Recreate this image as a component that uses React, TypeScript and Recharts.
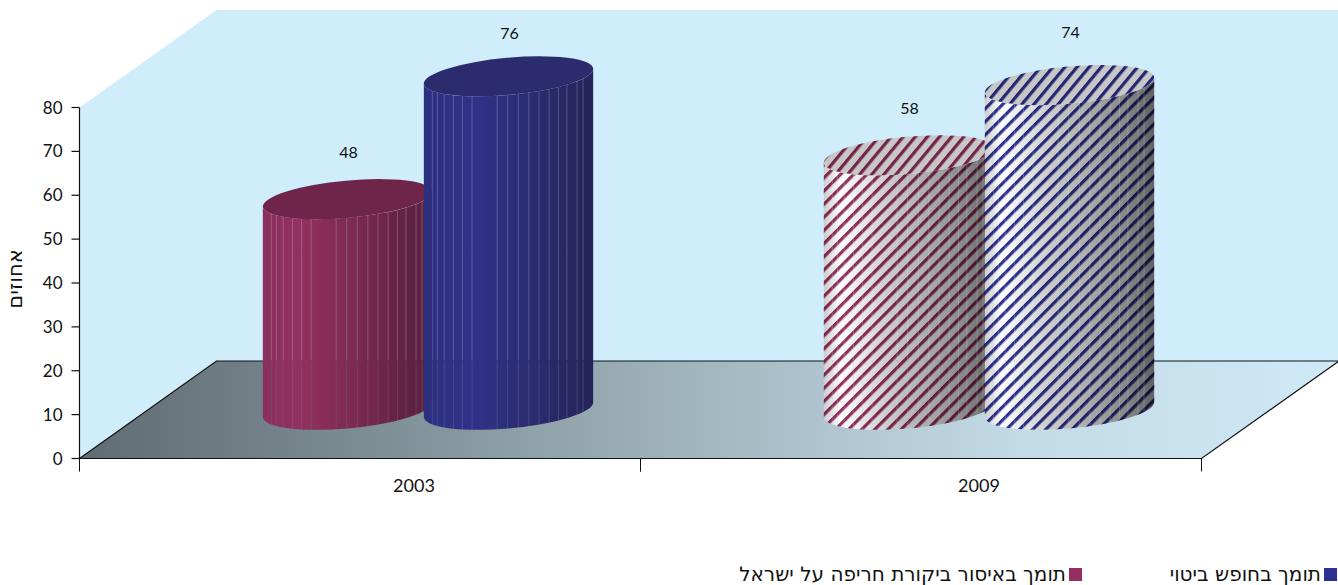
import React from "react";
import {
  Bar,
  BarChart,
  Customized,
  LabelList,
  Legend,
  XAxis,
  YAxis,
} from "recharts";

const YEARS = ["2003", "2009"];
const CENSORSHIP_VALUES = [48, 58];
const EXPRESSION_VALUES = [76, 74];
const Y_TICKS = [0, 10, 20, 30, 40, 50, 60, 70, 80];
const CENSORSHIP_NAME = "תומך באיסור ביקורת חריפה על ישראל";
const EXPRESSION_NAME = "תומך בחופש ביטוי";
const Y_TITLE = "אחוזים";

const chartData = YEARS.map((year, i) => ({
  year,
  censorship: CENSORSHIP_VALUES[i],
  expression: EXPRESSION_VALUES[i],
}));

const FONT = "Lato, 'DejaVu Sans', sans-serif";
const HEBREW_FONT = "'DejaVu Sans', sans-serif";
const RED = "#952f5f";
const BLUE = "#2e3190";

// plot box and the fake 3d depth of the floor
const LEFT = 79.5;
const RIGHT = 1201.5;
const TOP = 107.5;
const BOTTOM = 458.5;
const DEPTH_X = 137;
const DEPTH_Y = -97.5;

// cylinder look
const RX = 85;
const RY = 18.6;
const TILT = (-5.2 * Math.PI) / 180;
const NUDGE_X = -1;
const SEAMS = [
  0.05, 0.08, 0.12, 0.175, 0.228, 0.285, 0.433, 0.495, 0.558, 0.62, 0.68, 0.74,
  0.795, 0.845, 0.905, 0.94,
];

// how far above the cap centre each value label sits
const LABEL_LIFT: Record<string, number[]> = {
  censorship: [47, 47],
  expression: [43, 53],
};
const YEAR_LABEL_SHIFT = [54, 58];

function Backdrop() {
  const bx = LEFT + DEPTH_X;
  const by = BOTTOM + DEPTH_Y;
  return (
    <g>
      <defs>
        <linearGradient id="floorFill" x1="0" y1="0" x2="1" y2="0">
          <stop offset="0" stopColor="#5f6c72" />
          <stop offset="0.25" stopColor="#7f9097" />
          <stop offset="0.5" stopColor="#a3b7c0" />
          <stop offset="0.75" stopColor="#c3dbe7" />
          <stop offset="1" stopColor="#d0e9f6" />
        </linearGradient>
        <linearGradient id="redBody" x1="0" y1="0" x2="1" y2="0">
          <stop offset="0" stopColor="#8a2f5d" />
          <stop offset="0.2" stopColor="#93305f" />
          <stop offset="0.5" stopColor="#7f2b52" />
          <stop offset="0.8" stopColor="#652343" />
          <stop offset="1" stopColor="#5a2040" />
        </linearGradient>
        <linearGradient id="blueBody" x1="0" y1="0" x2="1" y2="0">
          <stop offset="0" stopColor="#2c2f80" />
          <stop offset="0.3" stopColor="#2f3288" />
          <stop offset="0.6" stopColor="#2c2c72" />
          <stop offset="1" stopColor="#25245a" />
        </linearGradient>
        <linearGradient id="hatchShade" x1="0" y1="0" x2="1" y2="0">
          <stop offset="0" stopColor="#000" stopOpacity="0.2" />
          <stop offset="0.1" stopColor="#000" stopOpacity="0" />
          <stop offset="0.35" stopColor="#000" stopOpacity="0.18" />
          <stop offset="0.6" stopColor="#000" stopOpacity="0.32" />
          <stop offset="0.85" stopColor="#000" stopOpacity="0.48" />
          <stop offset="1" stopColor="#000" stopOpacity="0.62" />
        </linearGradient>
        <pattern
          id="hatchRed"
          patternUnits="userSpaceOnUse"
          width="9.3"
          height="9.3"
          patternTransform="rotate(45)"
        >
          <rect width="9.3" height="9.3" fill="#fff" />
          <rect width="3.2" height="9.3" fill={RED} />
        </pattern>
        <pattern
          id="hatchBlue"
          patternUnits="userSpaceOnUse"
          width="9.3"
          height="9.3"
          patternTransform="rotate(45)"
        >
          <rect width="9.3" height="9.3" fill="#fff" />
          <rect width="3.2" height="9.3" fill={BLUE} />
        </pattern>
      </defs>
      <polygon
        points={`${LEFT},${TOP} ${bx},${TOP + DEPTH_Y} 1338,${TOP + DEPTH_Y} 1338,${by} ${bx},${by} ${LEFT},${BOTTOM}`}
        fill="#d0edfc"
      />
      <polygon
        points={`${LEFT},${BOTTOM} ${bx},${by} 1339,${by} ${RIGHT},${BOTTOM}`}
        fill="url(#floorFill)"
        stroke="#111"
        strokeWidth={1.2}
      />
    </g>
  );
}

function Cylinder(props: any) {
  const { x, y, width, height, index, hatchAt, lid, body, hatch, tag } = props;
  const cx = x + width / 2 + DEPTH_X / 2 + NUDGE_X;
  const topY = y + DEPTH_Y / 2;
  const baseY = y + height + DEPTH_Y / 2;

  // silhouette tips of the tilted ellipse
  const t = Math.atan(-(RY / RX) * Math.tan(TILT));
  const tx = RX * Math.cos(t) * Math.cos(TILT) - RY * Math.sin(t) * Math.sin(TILT);
  const ty = RX * Math.cos(t) * Math.sin(TILT) + RY * Math.sin(t) * Math.cos(TILT);
  const deg = (TILT * 180) / Math.PI;
  const arc = `A${RX} ${RY} ${deg}`;

  const bodyPath =
    `M${cx - tx} ${topY - ty} L${cx - tx} ${baseY - ty} ` +
    `${arc} 0 0 ${cx + tx} ${baseY + ty} L${cx + tx} ${topY + ty} ` +
    `${arc} 0 1 ${cx - tx} ${topY - ty} Z`;

  const isHatched = index === hatchAt;
  const maskId = `seams-${tag}-${index}`;

  return (
    <g>
      <mask
        id={maskId}
        maskUnits="userSpaceOnUse"
        x={cx - RX - 5}
        y={0}
        width={RX * 2 + 10}
        height={585}
      >
        <rect x={cx - RX - 5} y={0} width={RX * 2 + 10} height={585} fill="#fff" />
        {SEAMS.map((f) => (
          <line
            key={f}
            x1={cx - tx + f * 2 * tx}
            x2={cx - tx + f * 2 * tx}
            y1={0}
            y2={585}
            stroke="#c4c4c4"
            strokeWidth={1}
          />
        ))}
      </mask>
      <g mask={`url(#${maskId})`}>
        <path d={bodyPath} fill={isHatched ? `url(#${hatch})` : `url(#${body})`} />
        {isHatched && <path d={bodyPath} fill="url(#hatchShade)" />}
      </g>
      <ellipse
        cx={cx}
        cy={topY}
        rx={RX}
        ry={RY}
        transform={`rotate(${deg} ${cx} ${topY})`}
        fill={isHatched ? `url(#${hatch})` : lid}
      />
      {isHatched && (
        <ellipse
          cx={cx}
          cy={topY}
          rx={RX}
          ry={RY}
          transform={`rotate(${deg} ${cx} ${topY})`}
          fill="#000"
          fillOpacity={0.22}
        />
      )}
    </g>
  );
}

function YearTick(props: any) {
  const { x, y, payload, index } = props;
  const half = (RIGHT - LEFT) / YEARS.length / 2;
  return (
    <g>
      <line x1={x - half} x2={x - half} y1={BOTTOM} y2={BOTTOM + 13} stroke="#111" />
      <line x1={x + half} x2={x + half} y1={BOTTOM} y2={BOTTOM + 13} stroke="#111" />
      <text
        x={x + YEAR_LABEL_SHIFT[index]}
        y={y + 25}
        textAnchor="middle"
        fontFamily={FONT}
        fontSize={18}
        fill="#111"
      >
        {payload.value}
      </text>
    </g>
  );
}

function ValueLabel(props: any) {
  const { x, y, width, index, value, series } = props;
  return (
    <text
      x={x + width / 2 + DEPTH_X / 2}
      y={y + DEPTH_Y / 2 - LABEL_LIFT[series][index] + 6}
      textAnchor="middle"
      fontFamily={FONT}
      fontSize={16}
      fill="#111"
    >
      {value}
    </text>
  );
}

function YTitle() {
  return (
    <text
      x={22}
      y={279}
      transform="rotate(-90 22 279)"
      textAnchor="middle"
      direction="rtl"
      fontFamily={HEBREW_FONT}
      fontSize={21}
      fill="#111"
    >
      {Y_TITLE}
    </text>
  );
}

function LegendRow() {
  const items = [
    { name: CENSORSHIP_NAME, color: RED, right: 256 },
    { name: EXPRESSION_NAME, color: BLUE, right: 1 },
  ];
  return (
    <div style={{ position: "relative", width: 1338, height: 20 }}>
      {items.map((item) => (
        <div
          key={item.name}
          style={{
            position: "absolute",
            right: item.right,
            top: 0,
            display: "flex",
            alignItems: "center",
            whiteSpace: "nowrap",
          }}
        >
          <span
            dir="rtl"
            style={{
              fontFamily: HEBREW_FONT,
              fontSize: 20,
              lineHeight: "20px",
              color: "#111",
              marginRight: 3,
            }}
          >
            {item.name}
          </span>
          <span
            style={{ width: 13, height: 13, background: item.color, display: "block" }}
          />
        </div>
      ))}
    </div>
  );
}

export default function App() {
  return (
    <div style={{ position: "absolute", left: 0, top: 0, width: 1338, height: 585 }}>
      <BarChart
        width={1338}
        height={585}
        data={chartData}
        margin={{ top: TOP, right: 1338 - RIGHT, bottom: 46.5, left: 0 }}
        barSize={161}
        barGap={0}
      >
        <Customized component={Backdrop} />
        <XAxis
          dataKey="year"
          height={60}
          axisLine={false}
          tickLine={false}
          tick={YearTick}
          interval={0}
        />
        <YAxis
          width={LEFT}
          domain={[0, 80]}
          ticks={Y_TICKS}
          interval={0}
          axisLine={{ stroke: "#111", strokeWidth: 1.2 }}
          tickLine={{ stroke: "#111", strokeWidth: 1.2 }}
          tickSize={8}
          tickMargin={9}
          tick={{ fontFamily: FONT, fontSize: 17, fill: "#111" }}
        />
        <Legend
          content={LegendRow}
          wrapperStyle={{ left: 0, top: 564, bottom: "auto", width: 1338, height: 20 }}
          verticalAlign="bottom"
        />
        <Bar
          dataKey="censorship"
          name={CENSORSHIP_NAME}
          fill={RED}
          isAnimationActive={false}
          shape={(p: any) => (
            <Cylinder
              {...p}
              hatchAt={1}
              tag="a"
              body="redBody"
              hatch="hatchRed"
              lid="#6f2549"
            />
          )}
        >
          <LabelList
            dataKey="censorship"
            content={(p: any) => <ValueLabel {...p} series="censorship" />}
          />
        </Bar>
        <Bar
          dataKey="expression"
          name={EXPRESSION_NAME}
          fill={BLUE}
          isAnimationActive={false}
          shape={(p: any) => (
            <Cylinder
              {...p}
              hatchAt={1}
              tag="b"
              body="blueBody"
              hatch="hatchBlue"
              lid="#2c2b6e"
            />
          )}
        >
          <LabelList
            dataKey="expression"
            content={(p: any) => <ValueLabel {...p} series="expression" />}
          />
        </Bar>
        <Customized component={YTitle} />
      </BarChart>
    </div>
  );
}
